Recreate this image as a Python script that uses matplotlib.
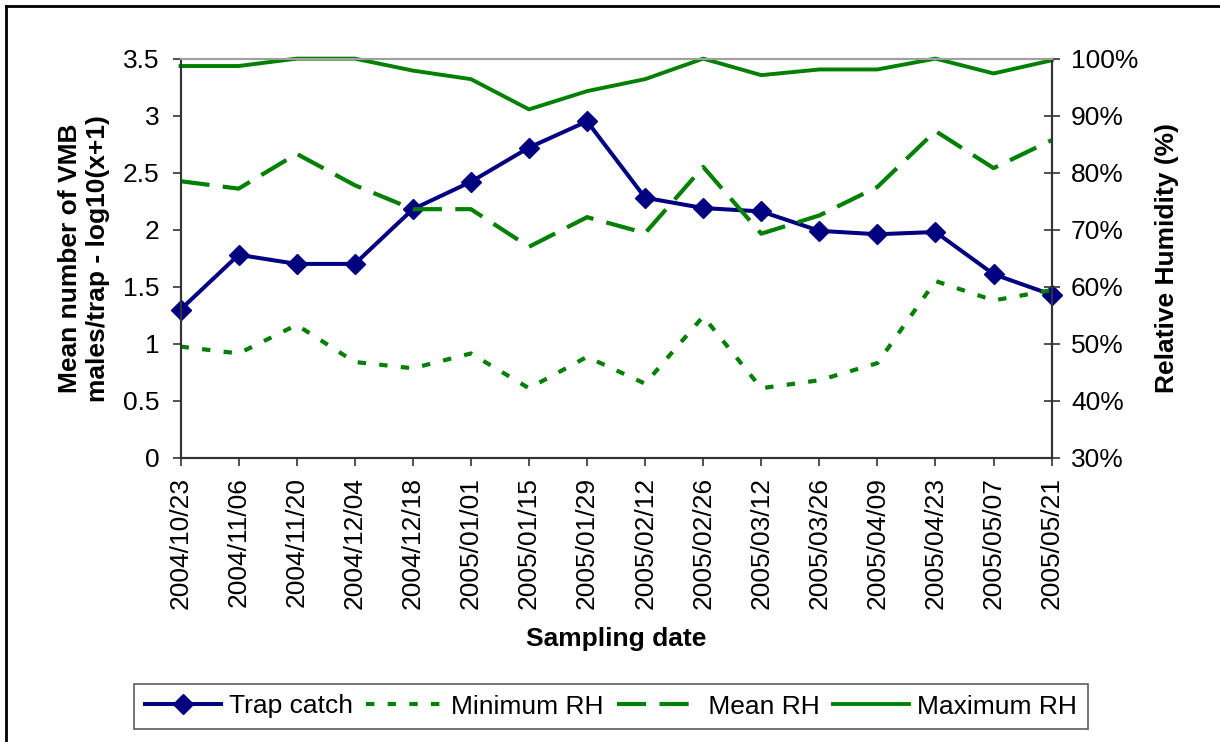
import numpy as np
import matplotlib.pyplot as plt
from matplotlib.lines import Line2D
from matplotlib.ticker import FuncFormatter, PercentFormatter

plt.rcParams['font.family'] = ['Liberation Sans', 'DejaVu Sans']

# --- data ---
dates = ['2004/10/23', '2004/11/06', '2004/11/20', '2004/12/04', '2004/12/18',
         '2005/01/01', '2005/01/15', '2005/01/29', '2005/02/12', '2005/02/26',
         '2005/03/12', '2005/03/26', '2005/04/09', '2005/04/23', '2005/05/07',
         '2005/05/21']
trap_catch = [1.30, 1.78, 1.70, 1.70, 2.18, 2.42, 2.72, 2.95,
              2.28, 2.19, 2.16, 1.99, 1.96, 1.98, 1.61, 1.43]
min_rh = [49.5, 48.3, 53.3, 46.8, 45.7, 48.3, 42.2, 47.7,
          43.0, 54.8, 42.2, 43.6, 46.6, 61.0, 57.6, 59.4]
mean_rh = [78.5, 77.2, 83.3, 77.8, 73.6, 73.6, 67.0, 72.2,
           69.4, 81.0, 69.3, 72.5, 77.5, 87.3, 80.8, 85.7]
max_rh = [98.7, 98.7, 100, 100, 97.9, 96.4, 91.1, 94.3,
          96.4, 100, 97.1, 98.1, 98.1, 100, 97.4, 99.7]

navy = '#000080'
green = '#008000'
axc = '#333333'
fs = 19

fig = plt.figure(figsize=(12.2, 7.42), dpi=100)
ax = fig.add_axes([0.148, 0.383, 0.714, 0.538])
ax2 = ax.twinx()

x = np.arange(len(dates))

# trap catch on the left axis
ax.plot(x, trap_catch, color=navy, lw=2.9, marker='D', markersize=10,
        clip_on=False, zorder=3, label='Trap catch')

# humidity series on the right axis (as fractions)
rh = lambda v: np.array(v) / 100.0
ax2.plot(x, rh(min_rh), color=green, lw=3.0, dashes=(2.0, 3.2),
         clip_on=False, label='Minimum RH')
ax2.plot(x, rh(mean_rh), color=green, lw=3.0, dashes=(7, 3.2),
         clip_on=False, label=' Mean RH')
ax2.plot(x, rh(max_rh), color=green, lw=2.8, clip_on=False,
         label='Maximum RH')

ax.set_xlim(0, len(dates) - 1)
ax.set_ylim(0, 3.5)
ax2.set_ylim(0.3, 1.0)

ax.set_xticks(x)
ax.set_xticklabels(dates, rotation=90)
ax.set_yticks(np.arange(0, 3.51, 0.5))
ax.yaxis.set_major_formatter(FuncFormatter(lambda v, p: '%g' % v))
ax2.set_yticks(np.arange(0.3, 1.001, 0.1))
ax2.yaxis.set_major_formatter(PercentFormatter(1.0, decimals=0))

ax.tick_params(axis='both', labelsize=fs, length=6, width=1.2, color=axc, pad=9)
ax.tick_params(axis='x', pad=8)
ax2.tick_params(axis='y', labelsize=fs, direction='inout', length=12,
                width=1.2, color=axc, pad=8)

for a in (ax, ax2):
    for s in ('left', 'right', 'bottom'):
        a.spines[s].set_color(axc)
        a.spines[s].set_linewidth(1.5)
    a.spines['top'].set_color('#a0a0a0')
    a.spines['top'].set_linewidth(1.5)

ax.set_ylabel('Mean number of VMB\nmales/trap - log10(x+1)', fontsize=fs,
              fontweight='bold', linespacing=1.2)
ax.yaxis.set_label_coords(-0.081, 0.5)
ax2.set_ylabel('Relative Humidity (%)', fontsize=fs, fontweight='bold')
ax2.yaxis.set_label_coords(1.119, 0.5)
ax.set_xlabel('Sampling date', fontsize=fs, fontweight='bold')
ax.xaxis.set_label_coords(0.5, -0.424)

h1, l1 = ax.get_legend_handles_labels()
h2, l2 = ax2.get_legend_handles_labels()
leg = fig.legend(h1 + h2, l1 + l2, loc='center', bbox_to_anchor=(611 / 1220, 1 - 706.5 / 742),
                 ncol=4, fontsize=fs, frameon=True, fancybox=False,
                 handlelength=2.9, handletextpad=0.3, columnspacing=0.5,
                 borderpad=0.4, borderaxespad=0)
leg.get_frame().set_edgecolor(axc)
leg.get_frame().set_linewidth(1.2)

# outer chart frame (left and top edges visible)
fig.add_artist(Line2D([6 / 1220, 6 / 1220], [0, 1 - 6 / 742], color='black',
                      lw=2, transform=fig.transFigure))
fig.add_artist(Line2D([6 / 1220, 1], [1 - 6 / 742, 1 - 6 / 742], color='black',
                      lw=2, transform=fig.transFigure))

fig.savefig('out.png', dpi=100)
